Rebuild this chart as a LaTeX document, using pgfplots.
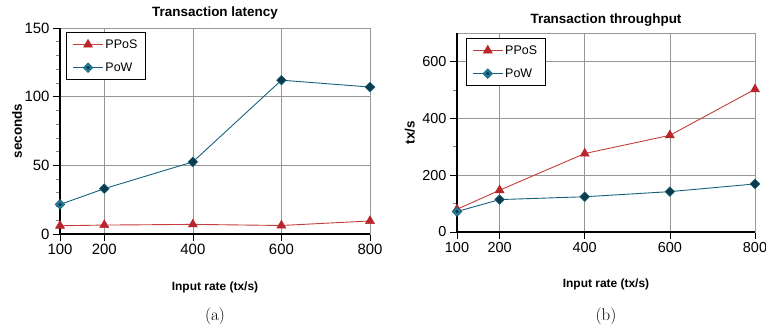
\documentclass[border=0pt]{standalone}
\usepackage{pgfplots}
\pgfplotsset{compat=1.18}
\usepackage{fontspec}
\setsansfont{Liberation Sans}
\definecolor{ppos}{RGB}{196,62,62}
\definecolor{pposfill}{RGB}{185,38,42}
\definecolor{pow}{RGB}{22,98,125}
\definecolor{powfill}{RGB}{35,125,155}
\definecolor{griddc}{RGB}{150,150,150}
\newcommand\titlefont{\sffamily\bfseries\fontsize{13.5}{14}\selectfont}
\newcommand\labelfont{\sffamily\bfseries\fontsize{12}{12}\selectfont}
\newcommand\ylabelfont{\sffamily\bfseries\fontsize{13.5}{14}\selectfont}
\newcommand\capfont{\fontsize{17}{17}\selectfont}
\pgfdeclareplotmark{diadot}{%
  \pgfpathmoveto{\pgfqpoint{0pt}{\pgfplotmarksize}}%
  \pgfpathlineto{\pgfqpoint{\pgfplotmarksize}{0pt}}%
  \pgfpathlineto{\pgfqpoint{0pt}{-\pgfplotmarksize}}%
  \pgfpathlineto{\pgfqpoint{-\pgfplotmarksize}{0pt}}%
  \pgfpathclose\pgfusepathqfillstroke
  \pgfsetfillcolor{pow!60!black}%
  \pgfpathcircle{\pgfpointorigin}{0.4\pgfplotmarksize}%
  \pgfusepathqfill}
\pgfplotsset{
  common/.style={
    scale only axis, clip=false,
    xmin=100, xmax=800,
    xtick={100,200,400,600,800},
    tick align=outside, xtick pos=lower, ytick pos=left,
    major tick length=7bp, minor tick length=4bp,
    every tick/.style={black, line width=0.6bp},
    minor tick style={gray, line width=0.6bp},
    grid=major,
    major grid style={griddc, line width=0.6bp},
    axis line style={gray!80, line width=0.8bp},
    /pgf/number format/assume math mode=true,
    tick label style={font=\sffamily\fontsize{15}{15}\selectfont},
    legend style={font=\sffamily\fontsize{12.5}{12.5}\selectfont, anchor=north west, draw=black, line width=0.8bp,
      inner xsep=6bp, inner ysep=5bp, row sep=9bp, cells={anchor=west},
      /tikz/every even column/.append style={column sep=6bp}},
    legend image code/.code={\draw[mark repeat=2,mark phase=2] plot coordinates {(0bp,0bp)(15bp,0bp)(30bp,0bp)};},
  },
  pposstyle/.style={color=ppos, line width=0.9bp, mark=triangle*, mark size=5.2bp,
     mark options={fill=pposfill, draw=pposfill, line width=0.5bp}},
  powstyle/.style={color=pow, line width=0.9bp, mark=diadot, mark size=4.8bp,
     mark options={fill=powfill, draw=pow, line width=0.6bp}},
}
\begin{document}
\begin{tikzpicture}
\useasboundingbox (0,0) rectangle (766bp,326bp);
\begin{axis}[common,
  at={(60bp,92bp)}, anchor=south west,
  width=310bp, height=206bp,
  ymin=0, ymax=150, ytick={0,50,100,150}, minor y tick num=4,
  legend style={at={(rel axis cs:0.02,0.98)}},
]
\addplot[pposstyle] coordinates {(100,6) (200,6.5) (400,7) (600,6.2) (800,9.5)};
\addlegendentry{PPoS}
\addplot[powstyle] coordinates {(100,21.5) (200,33) (400,52.5) (600,112) (800,107)};
\addlegendentry{PoW}
\draw[black, line width=1.2bp] (rel axis cs:0,1) -- (rel axis cs:0,0) -- (rel axis cs:1,0);
\node[font=\titlefont, anchor=base] at (axis description cs:0.5,1) [yshift=11bp] {Transaction latency};
\node[font=\labelfont] at (axis description cs:0.5,0) [yshift=-53bp] {Input rate (tx/s)};
\node[xshift=-43bp, rotate=90, font=\ylabelfont] at (axis description cs:0,0.5) {seconds};
\node[font=\capfont] at (axis description cs:0.5,0) [yshift=-82bp] {(a)};
\end{axis}
\begin{axis}[common,
  at={(457bp,94bp)}, anchor=south west,
  width=298bp, height=199bp,
  ymin=0, ymax=700, ytick={0,200,400,600}, minor y tick num=1,
  tick label style={font=\sffamily\fontsize{14.5}{14.5}\selectfont},
  legend style={at={(rel axis cs:0.03,0.975)}},
]
\addplot[pposstyle] coordinates {(100,80) (200,147) (400,276) (600,340) (800,502)};
\addlegendentry{PPoS}
\addplot[powstyle] coordinates {(100,72) (200,114) (400,124) (600,142) (800,169)};
\addlegendentry{PoW}
\draw[black, line width=1.2bp] (rel axis cs:0,1) -- (rel axis cs:0,0) -- (rel axis cs:1,0);
\node[font=\titlefont, anchor=base] at (axis description cs:0.5,1) [yshift=10bp] {Transaction throughput};
\node[font=\labelfont] at (axis description cs:0.5,0) [yshift=-52bp] {Input rate (tx/s)};
\node[xshift=-47bp, rotate=90, font=\ylabelfont] at (axis description cs:0,0.5) {tx/s};
\node[font=\capfont] at (axis description cs:0.5,0) [yshift=-84bp] {(b)};
\end{axis}
\end{tikzpicture}
\end{document}
